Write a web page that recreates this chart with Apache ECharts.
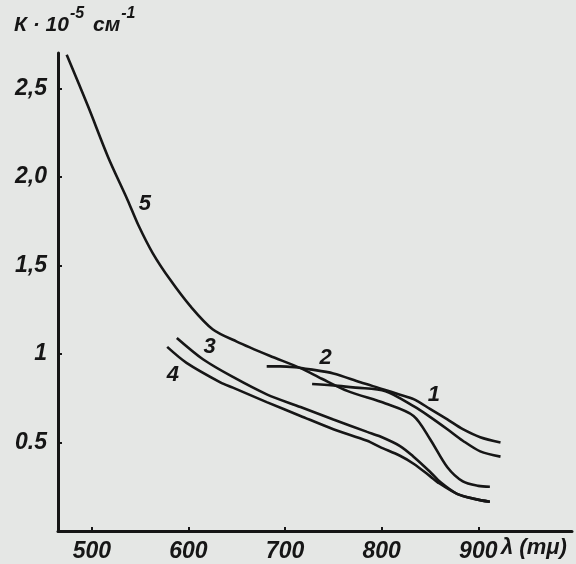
<!DOCTYPE html>
<html>
<head>
<meta charset="utf-8">
<title>K vs wavelength</title>
<script src="https://cdn.jsdelivr.net/npm/echarts@6/dist/echarts.min.js"></script>
<style>
  html, body { margin: 0; padding: 0; background: #e5e7e5; }
  #chart { width: 576px; height: 564px; }
</style>
</head>
<body>
<div id="chart"></div>
<script>
// wavelength (mμ) / K·10^-5 cm^-1
const curve1 = [[728, 0.83], [755, 0.82], [773, 0.81], [804, 0.79], [833, 0.705], [850, 0.645], [868, 0.575], [884, 0.51], [902, 0.45], [923, 0.42]];
const curve2 = [[681, 0.93], [695, 0.93], [710, 0.925], [726, 0.913], [750, 0.89], [778, 0.84], [802, 0.80], [819, 0.77], [833, 0.745], [850, 0.69], [868, 0.63], [884, 0.575], [902, 0.53], [923, 0.50]];
const curve3 = [[588, 1.09], [615, 0.97], [646, 0.87], [681, 0.772], [716, 0.70], [750, 0.63], [785, 0.56], [798, 0.535], [819, 0.48], [833, 0.42], [850, 0.335], [861, 0.275], [878, 0.21], [897, 0.18], [912, 0.165]];
const curve4 = [[578, 1.04], [598, 0.95], [633, 0.84], [646, 0.81], [681, 0.728], [716, 0.65], [750, 0.575], [785, 0.51], [798, 0.475], [819, 0.425], [833, 0.38], [850, 0.31], [858, 0.275], [878, 0.21], [897, 0.18], [912, 0.165]];
const curve5 = [[474, 2.69], [496, 2.40], [517, 2.11], [537, 1.87], [548, 1.73], [563, 1.57], [581, 1.42], [602, 1.27], [625, 1.14], [650, 1.07], [684, 0.99], [716, 0.92], [738, 0.86], [765, 0.79], [804, 0.72], [833, 0.65], [850, 0.52], [868, 0.36], [884, 0.28], [900, 0.255], [912, 0.25]];

const curveNames = ["1", "2", "3", "4", "5"];
const curveLabelX = [854, 742, 622, 584, 555];
const curveLabelY = [0.77, 0.98, 1.04, 0.88, 1.85];

const xTicks = [500, 600, 700, 800, 900];
const yTicks = [0.5, 1, 1.5, 2, 2.5];
const yTickLabels = ["0.5", "1", "1,5", "2,0", "2,5"];

const ink = "#161616";
const font = "Liberation Sans";

const chart = echarts.init(document.getElementById("chart"));

function line(data) {
  return {
    type: "line",
    data: data,
    showSymbol: false,
    smooth: 0.3,
    lineStyle: { color: ink, width: 2.6 },
    silent: true,
  };
}

chart.setOption({
  backgroundColor: "#e5e7e5",
  animation: false,
  grid: { left: 58, right: 4, top: 53, bottom: 33 },
  xAxis: {
    type: "value",
    min: 465,
    max: 997,
    splitLine: { show: false },
    axisLine: { lineStyle: { color: ink, width: 3 } },
    axisTick: { customValues: xTicks, inside: true, length: 4, lineStyle: { color: ink, width: 2 } },
    axisLabel: {
      customValues: xTicks,
      margin: 9,
      color: ink,
      fontFamily: font,
      fontStyle: "italic",
      fontWeight: "bold",
      fontSize: 23,
    },
  },
  yAxis: {
    type: "value",
    min: 0,
    max: 2.7,
    splitLine: { show: false },
    axisLine: { show: true, lineStyle: { color: ink, width: 3 } },
    axisTick: { show: true, customValues: yTicks, inside: true, length: 4, lineStyle: { color: ink, width: 2 } },
    axisLabel: {
      customValues: yTicks,
      margin: 11,
      color: ink,
      fontFamily: font,
      fontStyle: "italic",
      fontWeight: "bold",
      fontSize: 23,
      formatter: (v) => yTickLabels[yTicks.indexOf(v)],
    },
  },
  graphic: [
    {
      type: "text",
      left: 14,
      top: 6,
      style: {
        text: "{a|К · 10}{s|-5}{a| см}{s|-1}",
        rich: {
          a: { fontFamily: font, fontStyle: "italic", fontWeight: "bold", fontSize: 21, fill: ink, padding: [11, 1, 0, 0] },
          s: { fontFamily: font, fontStyle: "italic", fontWeight: "bold", fontSize: 16, fill: ink, padding: [0, 3, 11, 0] },
        },
      },
    },
    {
      type: "text",
      left: 501,
      top: 537,
      style: {
        text: "λ (mμ)",
        fontFamily: font,
        fontStyle: "italic",
        fontWeight: "bold",
        fontSize: 22,
        fill: ink,
      },
    },
  ],
  series: [
    line(curve1),
    line(curve2),
    line(curve3),
    line(curve4),
    line(curve5),
    {
      type: "scatter",
      symbolSize: 0,
      silent: true,
      itemStyle: { opacity: 1 },
      data: curveNames.map((n, i) => ({ name: n, value: [curveLabelX[i], curveLabelY[i]] })),
      label: {
        show: true,
        position: "inside",
        formatter: "{b}",
        color: ink,
        opacity: 1,
        textBorderWidth: 0,
        fontFamily: font,
        fontStyle: "italic",
        fontWeight: "bold",
        fontSize: 22,
      },
    },
  ],
});
</script>
</body>
</html>
